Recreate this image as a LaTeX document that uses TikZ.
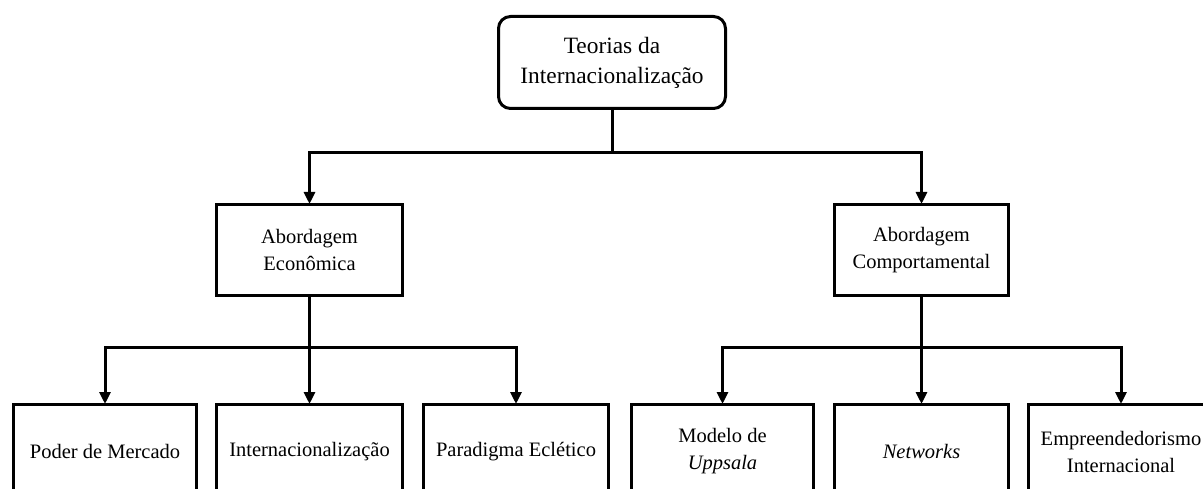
\documentclass[tikz,border=0pt]{standalone}
\usepackage{fontspec}
\setmainfont{Liberation Serif}
\usetikzlibrary{arrows.meta}
\tikzset{
  box/.style={draw=black, line width=3pt, fill=white, align=center, inner sep=2pt,
    font=\fontsize{20.5}{27}\selectfont},
  topbox/.style={box, rounded corners=12pt, font=\fontsize{23.4}{30}\selectfont},
  link/.style={draw=black, line width=3pt},
  arr/.style={link, -{Triangle[width=11pt,length=12pt]}, shorten >=-1pt},
}
\begin{document}
\begin{tikzpicture}[x=1pt,y=-1pt]
\useasboundingbox (0,0) rectangle (1203,489);
\clip (0,0) rectangle (1203,489);
\fill[white] (0,0) rectangle (1203,489);
\node[topbox, minimum width=227pt, minimum height=92pt] (top) at (612,62.5) {Teorias da\\Internacionalização};
\node[box, minimum width=186pt, minimum height=91pt] (ml) at (309.5,250) {Abordagem\\Econômica};
\node[box, minimum width=174pt, minimum height=91pt] (mr) at (921.5,250) {Abordagem\\Comportamental};
\node[box, minimum width=183pt, minimum height=94pt] (b1) at (105,451.5) {Poder de Mercado};
\node[box, minimum width=186pt, minimum height=94pt] (b2) at (309.5,451.5) {Internacionalização};
\node[box, minimum width=185pt, minimum height=94pt] (b3) at (516,451.5) {Paradigma Eclético};
\node[box, minimum width=182pt, minimum height=94pt] (b4) at (722.5,451.5) {Modelo de\\\textit{Uppsala}};
\node[box, minimum width=174pt, minimum height=94pt] (b5) at (921.5,451.5) {\textit{Networks}};
\node[box, minimum width=185pt, minimum height=94pt] (b6) at (1121,451.5) {Empreendedorismo\\Internacional};
\coordinate (j1) at (612,153);
\coordinate (j2) at (309.5,347);
\coordinate (j3) at (921.5,347);
\draw[link] (top.south) -- (j1);
\draw[arr] (j1) -| (ml.north);
\draw[arr] (j1) -| (mr.north);
\draw[link] (ml.south) -- (j2);
\draw[arr] (j2) -| (b1.north);
\draw[arr] (j2) -- (b2.north);
\draw[arr] (j2) -| (b3.north);
\draw[link] (mr.south) -- (j3);
\draw[arr] (j3) -| (b4.north);
\draw[arr] (j3) -- (b5.north);
\draw[arr] (j3) -| (b6.north);
\end{tikzpicture}
\end{document}
